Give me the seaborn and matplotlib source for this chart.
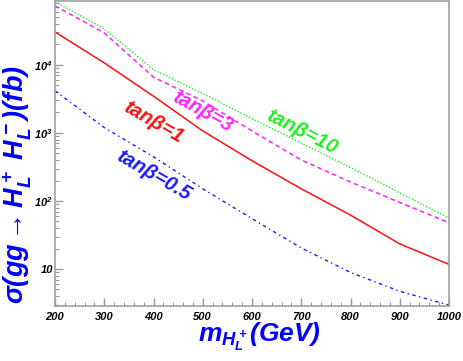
import matplotlib
matplotlib.use("Agg")
import matplotlib.pyplot as plt
import matplotlib.ticker as mticker
import seaborn as sns

# cross sections (fb)
mass = [200, 300, 400, 500, 600, 700, 800, 900, 1000]
xs_tb10 = [85000, 34000, 8500, 3800, 1620, 710, 310, 132, 56]
xs_tb3 = [74000, 29500, 6600, 2950, 1070, 400, 190, 95, 48]
xs_tb1 = [30500, 10700, 3470, 1070, 390, 151, 62, 23.4, 11.7]
xs_tb05 = [4170, 1200, 447, 151, 55, 20.4, 8.9, 4.7, 2.95]

labels = ["tanβ=10", "tanβ=3", "tanβ=1", "tanβ=0.5"]
label_pos = [(701, 1035), (500, 2040), (399, 1450), (401, 234)]
label_rot = [-27, -29, -30, -30]

sns.set_style("ticks")
plt.rcParams["font.family"] = ["Liberation Sans", "DejaVu Sans"]
plt.rcParams["mathtext.fontset"] = "custom"
plt.rcParams["mathtext.rm"] = "Liberation Sans:bold:italic"
plt.rcParams["mathtext.it"] = "Liberation Sans:bold:italic"
plt.rcParams["mathtext.bf"] = "Liberation Sans:bold:italic"

fig = plt.figure(figsize=(4.63, 3.61), dpi=100)
ax = fig.add_axes([55 / 463, 55 / 361, 394 / 463, 305 / 361])

series = [
    (xs_tb10, "#22ee22", (0, (1, 1.3)), 1.0),
    (xs_tb3, "#ff22ff", (0, (3, 2.2)), 1.1),
    (xs_tb1, "#ff1010", "-", 1.1),
    (xs_tb05, "#1a1aff", (0, (2.5, 2.5, 1, 2.5)), 1.0),
]
for vals, col, ls, lw in series:
    sns.lineplot(x=mass, y=vals, color=col, linestyle=ls, linewidth=lw, ax=ax)

ax.set_yscale("log")
ax.set_xlim(200, 1000)
ax.set_ylim(2.86, 87000)

cols = [s[1] for s in series]
for lab, (lx, ly), rot, col in zip(labels, label_pos, label_rot, cols):
    ax.text(lx, ly, lab, color=col, fontsize=14.5, fontweight="bold", style="italic",
            rotation=rot, ha="center", va="center", rotation_mode="anchor")

ax.xaxis.set_major_locator(mticker.MultipleLocator(100))
ax.xaxis.set_minor_locator(mticker.MultipleLocator(20))
ax.yaxis.set_major_locator(mticker.FixedLocator([10, 100, 1000, 10000]))
ax.yaxis.set_major_formatter(mticker.FixedFormatter(["10", "$10^2$", "$10^3$", "$10^4$"]))
ax.yaxis.set_minor_locator(mticker.LogLocator(base=10, subs=range(2, 10)))
ax.yaxis.set_minor_formatter(mticker.NullFormatter())

ax.tick_params(which="both", direction="in", colors="#999999", labelcolor="black",
               labelsize=8)
ax.tick_params(which="major", length=6, width=1)
ax.tick_params(which="minor", length=3, width=0.8)
ax.tick_params(axis="y", pad=1.5)
ax.tick_params(axis="x", pad=4)
for lab in ax.get_xticklabels() + ax.get_yticklabels():
    lab.set_fontweight("bold")
    lab.set_fontstyle("italic")

for sp in ax.spines.values():
    sp.set_color("#a0a0a0")
    sp.set_linewidth(1.2)

ax.set_xlabel(r"$m_{H_L^+}(GeV)$", color="#0000ff", fontsize=19)
ax.set_ylabel(r"$\sigma(gg\rightarrow H_L^+\ H_L^-)(fb)$", color="#0000ff", fontsize=19.5,
              va="center", ha="center")
ax.xaxis.set_label_coords(0.52, -0.05)
ax.yaxis.set_label_coords(17 / 463, 176 / 361, transform=fig.transFigure)

fig.savefig("out.png", dpi=100)
